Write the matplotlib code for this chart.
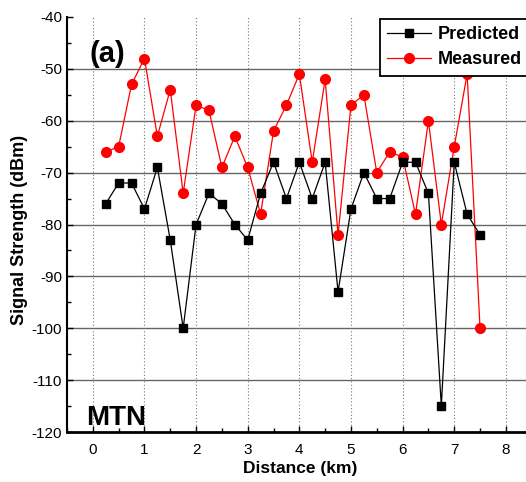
import matplotlib
matplotlib.use("Agg")
import matplotlib.pyplot as plt
from matplotlib.ticker import MultipleLocator

plt.rcParams['font.family'] = ['Liberation Sans', 'DejaVu Sans']
plt.rcParams['axes.unicode_minus'] = False

distance = [0.25, 0.5, 0.75, 1.0, 1.25, 1.5, 1.75, 2.0, 2.25, 2.5,
            2.75, 3.0, 3.25, 3.5, 3.75, 4.0, 4.25, 4.5, 4.75, 5.0,
            5.25, 5.5, 5.75, 6.0, 6.25, 6.5, 6.75, 7.0, 7.25, 7.5]
predicted = [-76, -72, -72, -77, -69, -83, -100, -80, -74, -76,
             -80, -83, -74, -68, -75, -68, -75, -68, -93, -77,
             -70, -75, -75, -68, -68, -74, -115, -68, -78, -82]
measured = [-66, -65, -53, -48, -63, -54, -74, -57, -58, -69,
            -63, -69, -78, -62, -57, -51, -68, -52, -82, -57,
            -55, -70, -66, -67, -78, -60, -80, -65, -51, -100]
x_ticks = [0, 1, 2, 3, 4, 5, 6, 7, 8]
y_ticks = [-120, -110, -100, -90, -80, -70, -60, -50, -40]

W, H = 526, 482
fig = plt.figure(figsize=(W / 100, H / 100), dpi=100)
ax = fig.add_axes([67 / W, 50 / H, (W - 67) / W, (432 - 17) / H])

# grid
for yv in y_ticks[1:-1]:
    ax.axhline(yv, color='#666666', lw=1.0, zorder=1)
for xv in x_ticks:
    ax.axvline(xv, color='#777777', lw=0.8, ls=(0, (1, 2)), zorder=1)

l_meas, = ax.plot(distance, measured, color='#ff0000', lw=0.9, marker='o',
                  markersize=7, markerfacecolor='#ff0000',
                  markeredgecolor='#ff0000', label='Measured', zorder=3)
l_pred, = ax.plot(distance, predicted, color='black', lw=0.9, marker='s',
                  markersize=6, markerfacecolor='black',
                  markeredgecolor='black', label='Predicted', zorder=4)

ax.set_xlim(-0.5, 8.39)
ax.set_ylim(-120, -40)
ax.set_xticks(x_ticks)
ax.set_yticks(y_ticks)
ax.xaxis.set_minor_locator(MultipleLocator(0.5))
ax.yaxis.set_minor_locator(MultipleLocator(5))
ax.tick_params(axis='both', which='major', direction='in', length=4,
               width=1, labelsize=11)
ax.tick_params(axis='both', which='minor', direction='in', length=3, width=1)
ax.tick_params(axis='x', which='major', pad=8)
ax.tick_params(axis='y', which='major', pad=3.5)

for s in ['top', 'right']:
    ax.spines[s].set_visible(False)
ax.spines['left'].set_linewidth(1.5)
ax.spines['bottom'].set_linewidth(2.0)

leg = ax.legend(handles=[l_pred, l_meas], loc='upper left',
                bbox_to_anchor=(380 / W, 1 - 19 / H),
                bbox_transform=fig.transFigure,
                prop={'weight': 'bold', 'size': 13}, fancybox=False,
                framealpha=1, edgecolor='black', borderpad=0.4,
                handlelength=2.4, handletextpad=0.4, labelspacing=0.45,
                borderaxespad=0)
leg.get_frame().set_linewidth(1.3)
leg.set_zorder(10)

ax.text((107 - 67) / (W - 67), (432 - 54) / 415, '(a)', transform=ax.transAxes,
        fontsize=21, fontweight='bold', ha='center', va='center')
ax.text((86 - 67) / (W - 67), (432 - 425) / 415, 'MTN', transform=ax.transAxes,
        fontsize=20, fontweight='bold', ha='left', va='baseline')

fig.text(20 / W, 1 - 230 / H, 'Signal Strength (dBm)', rotation=90,
         fontsize=13, fontweight='bold', ha='center', va='center')
fig.text(300 / W, 1 - 469 / H, 'Distance (km)', fontsize=12.5,
         fontweight='bold', ha='center', va='center')

fig.savefig('out.png', dpi=100)
